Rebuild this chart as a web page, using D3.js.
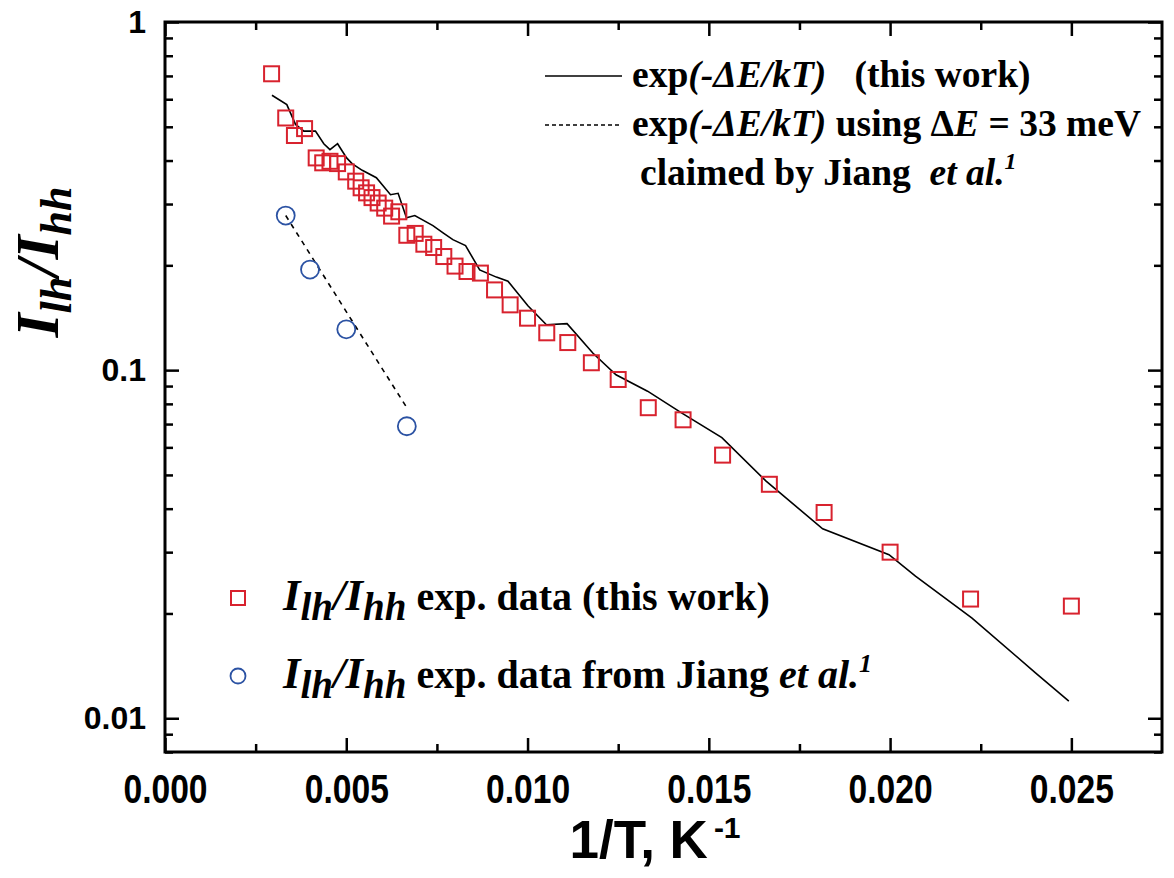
<!DOCTYPE html>
<html><head><meta charset="utf-8">
<script src="https://cdn.jsdelivr.net/npm/d3@7"></script>
<style>body{margin:0;background:#fff} svg{display:block}</style>
</head><body><svg id="c" width="1174" height="878"></svg>
<script>
// ---- data ----
const thisWorkX = [0.00294,0.00333,0.00357,0.00385,0.00417,0.00435,0.00455,0.00476,0.00500,0.00526,0.00541,0.00556,0.00571,0.00588,0.00606,0.00625,0.00645,0.00667,0.00690,0.00714,0.00741,0.00769,0.00800,0.00833,0.00870,0.00909,0.00952,0.01000,0.01053,0.01111,0.01176,0.01250,0.01333,0.01429,0.01538,0.01667,0.01818,0.02000,0.02222,0.02500];
const thisWorkY = [0.710,0.530,0.472,0.494,0.407,0.394,0.398,0.392,0.371,0.349,0.334,0.323,0.313,0.302,0.292,0.277,0.285,0.244,0.247,0.230,0.225,0.212,0.199,0.192,0.190,0.170,0.154,0.141,0.128,0.120,0.105,0.094,0.078,0.072,0.057,0.047,0.039,0.030,0.022,0.021];
const fitX = [0.00295,0.00336,0.00360,0.00383,0.00415,0.00438,0.00455,0.00476,0.00501,0.00516,0.00544,0.00583,0.00622,0.00643,0.00666,0.00689,0.00739,0.00767,0.00794,0.00829,0.00868,0.00914,0.00946,0.01001,0.01052,0.01109,0.01180,0.01244,0.01331,0.01428,0.01536,0.01658,0.01814,0.01997,0.02070,0.02226,0.02401,0.02493];
const fitY = [0.616,0.579,0.508,0.486,0.486,0.447,0.430,0.447,0.407,0.392,0.375,0.357,0.319,0.322,0.274,0.278,0.260,0.248,0.237,0.228,0.194,0.185,0.180,0.153,0.135,0.136,0.112,0.097,0.087,0.075,0.064,0.048,0.035,0.0295,0.0256,0.0194,0.0135,0.0112];
const jiangX = [0.00333,0.00400,0.00500,0.00667];
const jiangY = [0.278,0.1945,0.131,0.069];
const jiangFitX = [0.00333,0.00667];
const jiangFitY = [0.278,0.078];
const xMajorTicks = [0,0.005,0.010,0.015,0.020,0.025];
const xMinorTicks = [0.0025,0.0075,0.0125,0.0175,0.0225];
const yMajorTicks = [0.01,0.1,1];
const yTickLabels = ["0.01","0.1","1"];

// ---- layout ----
const L=165, R=1162, T=22, B=752;
const svg = d3.select("#c");
const x = d3.scaleLinear().domain([0,0.0275]).range([L,R]);
const y = d3.scaleLog().domain([0.008,1]).range([B,T]);
const yMinor = [];
[0.001,0.01,0.1].forEach(d=>{for(let k=2;k<=9;k++){const v=d*k; if(v>=0.008 && v<1 && Math.abs(v-0.01)>1e-9 && Math.abs(v-0.1)>1e-9) yMinor.push(v);}});

const RED="#d8222e", BLUE="#2b52a3";

// axes
function styleAxis(g){g.select(".domain").remove(); g.selectAll("line").attr("stroke","#000").attr("stroke-width",2.5);}
svg.append("g").attr("transform",`translate(0,${B})`)
  .call(d3.axisBottom(x).tickValues(xMajorTicks).tickSize(-14).tickPadding(22).tickFormat(d3.format(".3f")))
  .call(styleAxis)
  .call(g=>g.selectAll("text").attr("font-family","Liberation Sans, Arial, sans-serif").attr("font-weight","bold").attr("font-size",41).attr("fill","#000").attr("transform","scale(0.82,1)"));
svg.append("g").attr("transform",`translate(0,${B})`)
  .call(d3.axisBottom(x).tickValues(xMinorTicks).tickSize(-8).tickFormat(""))
  .call(styleAxis);
svg.append("g").attr("transform",`translate(0,${T})`)
  .call(d3.axisTop(x).tickValues(xMajorTicks).tickSize(-14).tickFormat(""))
  .call(styleAxis);
svg.append("g").attr("transform",`translate(0,${T})`)
  .call(d3.axisTop(x).tickValues(xMinorTicks).tickSize(-8).tickFormat(""))
  .call(styleAxis);
svg.append("g").attr("transform",`translate(${L},0)`)
  .call(d3.axisLeft(y).tickValues(yMajorTicks).tickSize(-14).tickPadding(19).tickFormat((d,i)=>yTickLabels[i]))
  .call(styleAxis)
  .call(g=>g.selectAll("text").attr("font-family","Liberation Sans, Arial, sans-serif").attr("font-weight","bold").attr("font-size",32).attr("fill","#000"));
svg.append("g").attr("transform",`translate(${L},0)`)
  .call(d3.axisLeft(y).tickValues(yMinor).tickSize(-8).tickFormat(""))
  .call(styleAxis);
svg.append("g").attr("transform",`translate(${R},0)`)
  .call(d3.axisRight(y).tickValues(yMajorTicks).tickSize(-14).tickFormat(""))
  .call(styleAxis);
svg.append("g").attr("transform",`translate(${R},0)`)
  .call(d3.axisRight(y).tickValues(yMinor).tickSize(-8).tickFormat(""))
  .call(styleAxis);
svg.append("rect").attr("x",L).attr("y",T).attr("width",R-L).attr("height",B-T)
  .attr("fill","none").attr("stroke","#000").attr("stroke-width",3);

// lines
const line = d3.line().x(d=>x(d[0])).y(d=>y(d[1]));
svg.append("path").datum(fitX.map((v,i)=>[v,fitY[i]])).attr("d",line)
  .attr("fill","none").attr("stroke","#000").attr("stroke-width",1.6);
svg.append("path").datum(jiangFitX.map((v,i)=>[v,jiangFitY[i]])).attr("d",line)
  .attr("fill","none").attr("stroke","#000").attr("stroke-width",1.6).attr("stroke-dasharray","5,5");

// markers
const S=15;
svg.append("g").selectAll("rect").data(thisWorkX.map((v,i)=>[v,thisWorkY[i]])).join("rect")
  .attr("x",d=>x(d[0])-S/2).attr("y",d=>y(d[1])-S/2).attr("width",S).attr("height",S)
  .attr("fill","none").attr("stroke",RED).attr("stroke-width",2);
svg.append("g").selectAll("circle").data(jiangX.map((v,i)=>[v,jiangY[i]])).join("circle")
  .attr("cx",d=>x(d[0])).attr("cy",d=>y(d[1])).attr("r",9)
  .attr("fill","none").attr("stroke",BLUE).attr("stroke-width",1.8);

// axis titles
const serif="Liberation Serif, Times New Roman, serif";
const xt = svg.append("text").attr("x",655).attr("y",858).attr("text-anchor","middle")
  .attr("font-family","Liberation Sans, Arial, sans-serif").attr("font-weight","bold").attr("font-size",53);
xt.append("tspan").text("1/T, K");
xt.append("tspan").attr("font-size",30).attr("dy",-20).text("\u2009-1");

const yt = svg.append("text").attr("transform","translate(58,262) rotate(-90)").attr("text-anchor","middle")
  .attr("font-family",serif).attr("font-weight","bold").attr("font-style","italic").attr("font-size",62);
yt.append("tspan").text("I");
yt.append("tspan").attr("font-size",44).attr("dy",13).text("lh");
yt.append("tspan").attr("dy",-13).text("/I");
yt.append("tspan").attr("font-size",44).attr("dy",13).text("hh");

// legend top-right
const lg = svg.append("g").attr("font-family",serif).attr("font-weight","bold").attr("font-size",37.5).attr("fill","#000");
lg.append("line").attr("x1",545).attr("x2",622).attr("y1",76).attr("y2",76).attr("stroke","#000").attr("stroke-width",1.6);
lg.append("line").attr("x1",545).attr("x2",622).attr("y1",125).attr("y2",125).attr("stroke","#000").attr("stroke-width",1.6).attr("stroke-dasharray","4,3");
const t1 = lg.append("text").attr("x",632).attr("y",87);
t1.append("tspan").text("exp");
t1.append("tspan").attr("font-style","italic").text("(-\u0394E/kT)");
t1.append("tspan").text("\u00a0\u00a0\u00a0(this work)");
const t2 = lg.append("text").attr("x",632).attr("y",136);
t2.append("tspan").text("exp");
t2.append("tspan").attr("font-style","italic").text("(-\u0394E/kT)");
t2.append("tspan").text(" using \u0394");
t2.append("tspan").attr("font-style","italic").text("E");
t2.append("tspan").text(" = 33 meV");
const t3 = lg.append("text").attr("x",640).attr("y",185);
t3.append("tspan").text("claimed by Jiang\u00a0\u00a0");
t3.append("tspan").attr("font-style","italic").text("et al.");
t3.append("tspan").attr("font-style","italic").attr("font-size",24).attr("dy",-16).text("1");

// legend bottom-left
const lb = svg.append("g").attr("font-family",serif).attr("font-weight","bold").attr("font-size",40).attr("fill","#000");
lb.append("rect").attr("x",231).attr("y",591).attr("width",14).attr("height",14).attr("fill","none").attr("stroke",RED).attr("stroke-width",2);
lb.append("circle").attr("cx",238).attr("cy",676).attr("r",7.5).attr("fill","none").attr("stroke",BLUE).attr("stroke-width",1.8);
function ratioLabel(t){
  t.append("tspan").attr("font-style","italic").attr("font-size",45).text("I");
  t.append("tspan").attr("font-style","italic").attr("font-size",39).attr("dy",10).text("lh");
  t.append("tspan").attr("font-style","italic").attr("font-size",45).attr("dy",-10).text("/I");
  t.append("tspan").attr("font-style","italic").attr("font-size",39).attr("dy",10).text("hh");
}
const b1 = lb.append("text").attr("x",283).attr("y",610);
ratioLabel(b1); b1.append("tspan").attr("dy",-10).text(" exp. data (this work)");
const b2 = lb.append("text").attr("x",283).attr("y",688);
ratioLabel(b2); b2.append("tspan").attr("dy",-10).text(" exp. data from Jiang ");
b2.append("tspan").attr("font-style","italic").text("et al.");
b2.append("tspan").attr("font-style","italic").attr("font-size",26).attr("dy",-16).text("1");
</script></body></html>
